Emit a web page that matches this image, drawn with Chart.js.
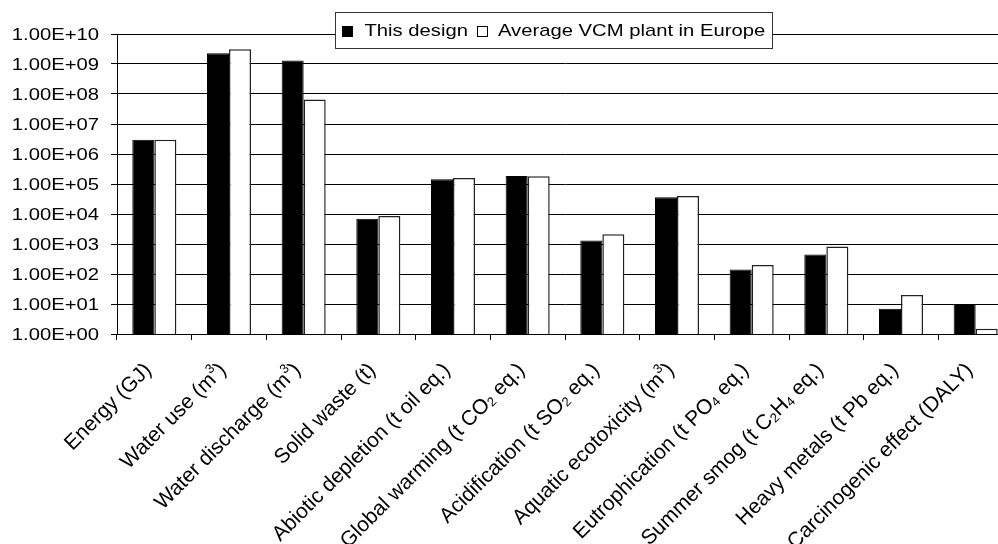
<!DOCTYPE html>
<html>
<head>
<meta charset="utf-8">
<script src="https://cdn.jsdelivr.net/npm/chart.js@4.4.0/dist/chart.umd.min.js"></script>
<style>
  html, body { margin: 0; padding: 0; background: #fff; overflow: hidden; }
  #wrap { width: 998px; height: 544px; overflow: hidden; }
  #chart { display: block; }
</style>
</head>
<body>
<div id="wrap"><canvas id="chart" width="1014" height="544"></canvas></div>
<script>
// impact categories; ^n = superscript digit, _n = subscript digit
const categories = [
  'Energy (GJ)', 'Water use (m^3)', 'Water discharge (m^3)', 'Solid waste (t)',
  'Abiotic depletion (t oil eq.)', 'Global warming (t CO_2 eq.)', 'Acidification (t SO_2 eq.)',
  'Aquatic ecotoxicity (m^3)', 'Eutrophication (t PO_4 eq.)', 'Summer smog (t C_2H_4 eq.)',
  'Heavy metals (t Pb eq.)', 'Carcinogenic effect (DALY)'
];
const seriesNames = ['This design', 'Average VCM plant in Europe'];
const thisDesign = [3.0e6, 2.3e9, 1.3e9, 6.9e3, 1.45e5, 1.85e5, 1.3e3, 3.6e4, 1.4e2, 4.5e2, 7.0, 10];
const avgPlant   = [3.0e6, 3.1e9, 6.5e7, 8.5e3, 1.6e5, 1.8e5, 2.1e3, 4.0e4, 2.0e2, 8.3e2, 20, 1.5];
const yTicks = [1, 1e1, 1e2, 1e3, 1e4, 1e5, 1e6, 1e7, 1e8, 1e9, 1e10];
const yTickLabels = ['1.00E+00', '1.00E+01', '1.00E+02', '1.00E+03', '1.00E+04', '1.00E+05',
  '1.00E+06', '1.00E+07', '1.00E+08', '1.00E+09', '1.00E+10'];

const FONT = '"Liberation Sans", Arial, sans-serif';
const SX = 1.19; // tick and legend text is drawn a little wide

function splitRich(str) {
  const parts = [];
  const re = /([\^_])(\d)/g;
  let last = 0, m;
  while ((m = re.exec(str)) !== null) {
    if (m.index > last) parts.push({ t: str.slice(last, m.index), k: 'n' });
    parts.push({ t: m[2], k: m[1] === '^' ? 'sup' : 'sub' });
    last = re.lastIndex;
  }
  if (last < str.length) parts.push({ t: str.slice(last), k: 'n' });
  return parts;
}

// right-aligned text with small raised / lowered digits, ending at the origin
function drawRich(ctx, str, size) {
  const parts = splitRich(str);
  const small = Math.round(size * 0.62);
  let total = 0;
  parts.forEach(p => {
    ctx.font = (p.k === 'n' ? size : small) + 'px ' + FONT;
    p.w = ctx.measureText(p.t).width;
    total += p.w;
  });
  let x = -total;
  parts.forEach(p => {
    ctx.font = (p.k === 'n' ? size : small) + 'px ' + FONT;
    let dy = 0;
    if (p.k === 'sup') dy = -size * 0.36;
    if (p.k === 'sub') dy = size * 0.2;
    ctx.fillText(p.t, x, dy);
    x += p.w;
  });
}

const textPlugin = {
  id: 'textPlugin',
  afterDraw(chart) {
    const ctx = chart.ctx;
    const xs = chart.scales.x, ys = chart.scales.y;
    const area = chart.chartArea;
    ctx.save();
    ctx.fillStyle = '#000';

    // y tick labels
    ctx.font = '17px ' + FONT;
    ctx.textAlign = 'right';
    ctx.textBaseline = 'middle';
    yTicks.forEach((v, i) => {
      ctx.save();
      ctx.translate(area.left - 18, ys.getPixelForValue(v) + 1);
      ctx.scale(SX, 1);
      ctx.fillText(yTickLabels[i], 0, 0);
      ctx.restore();
    });

    // category labels at 45 degrees
    ctx.textAlign = 'left';
    ctx.textBaseline = 'middle';
    categories.forEach((c, i) => {
      ctx.save();
      ctx.translate(xs.getPixelForValue(i) - 6, area.bottom + 33);
      ctx.rotate(-Math.PI / 4);
      drawRich(ctx, c, 21);
      ctx.restore();
    });

    // legend box overlapping the top grid line
    ctx.font = '17px ' + FONT;
    const sq = 11, padL = 6, gapSq = 12, gapItem = 9, padR = 7;
    const w0 = ctx.measureText(seriesNames[0]).width * SX;
    const w1 = ctx.measureText(seriesNames[1]).width * SX;
    const boxW = Math.round(padL + sq + gapSq + w0 + gapItem + sq + gapSq - 2 + w1 + padR);
    const boxH = 36;
    const bx = 335.5;
    const by = 12.5;
    ctx.fillStyle = '#fff';
    ctx.fillRect(bx, by, boxW, boxH);
    ctx.strokeStyle = '#333';
    ctx.lineWidth = 1;
    ctx.strokeRect(bx, by, boxW, boxH);

    let x = bx + padL;
    const cy = by + boxH / 2;
    ctx.fillStyle = '#000';
    ctx.fillRect(Math.round(x), Math.round(cy - 5), sq, sq);
    x += sq + gapSq;
    ctx.textAlign = 'left';
    ctx.textBaseline = 'middle';
    ctx.save(); ctx.translate(x, cy + 1); ctx.scale(SX, 1); ctx.fillText(seriesNames[0], 0, 0); ctx.restore();
    x += w0 + gapItem;
    ctx.strokeStyle = '#000';
    ctx.strokeRect(Math.round(x) + 0.5, Math.round(cy - 5) + 0.5, sq - 1, sq - 1);
    x += sq + gapSq - 2;
    ctx.save(); ctx.translate(x, cy + 1); ctx.scale(SX, 1); ctx.fillText(seriesNames[1], 0, 0); ctx.restore();

    ctx.restore();
  }
};

new Chart(document.getElementById('chart').getContext('2d'), {
  type: 'bar',
  data: {
    labels: categories,
    datasets: [
      { label: seriesNames[0], data: thisDesign, backgroundColor: '#000', borderColor: '#000', borderWidth: 1 },
      { label: seriesNames[1], data: avgPlant, backgroundColor: '#fff', borderColor: '#222', borderWidth: 1.5 }
    ]
  },
  options: {
    responsive: false,
    animation: false,
    devicePixelRatio: 1,
    layout: { padding: { left: 0, top: 34, right: 1, bottom: 0 } },
    datasets: { bar: { categoryPercentage: 0.59, barPercentage: 1.0 } },
    plugins: { legend: { display: false }, tooltip: { enabled: false } },
    scales: {
      x: {
        ticks: { display: false },
        grid: { drawOnChartArea: false, drawTicks: true, tickLength: 6, color: '#000', offset: true },
        border: { display: true, color: '#000', width: 1 },
        afterFit(scale) { scale.height = 210; }
      },
      y: {
        type: 'logarithmic',
        min: 1,
        max: 1e10,
        afterBuildTicks(scale) { scale.ticks = yTicks.map(v => ({ value: v })); },
        ticks: { display: false },
        grid: { color: '#000', lineWidth: 1, drawTicks: true, tickLength: 6 },
        border: { display: true, color: '#000', width: 1 },
        afterFit(scale) { scale.width = 117; }
      }
    }
  },
  plugins: [textPlugin]
});
</script>
</body>
</html>
